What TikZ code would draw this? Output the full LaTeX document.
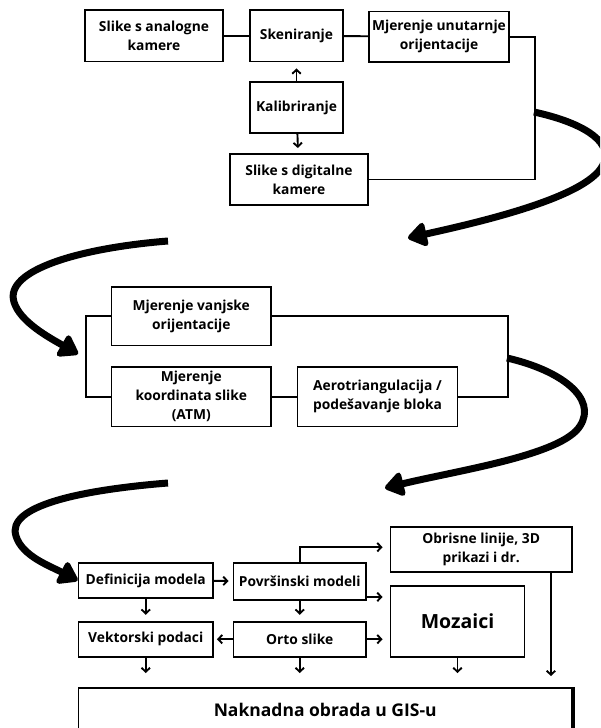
\documentclass[tikz,border=0pt]{standalone}
\usepackage{fontspec}
\setmainfont{Open Sans}
\usetikzlibrary{arrows.meta}

\begin{document}
\begin{tikzpicture}[x=1pt,y=-1pt,
	box/.style={draw,line width=1.9pt,align=center,inner sep=0pt,font=\bfseries\fontsize{13.8}{19}\selectfont},
	link/.style={line width=1.9pt},
	arr/.style={line width=1.9pt,-{Straight Barb[length=4pt,width=8.5pt]}},
	bigarr/.style={line width=7pt,-{Triangle[round,length=21pt,width=27pt]}}]
	\clip (0,0) rectangle (600,728);
	\fill[white] (0,0) rectangle (600,728);
		\node at (154,35.75) [box,minimum width=138,minimum height=51.5] (analogna) {Slike s analogne\\kamere};
		\node at (296.5,35.75) [box,minimum width=93,minimum height=51.5] (skeniranje) {Skeniranje};
		\node at (439,36.75) [box,minimum width=140,minimum height=50.5] (unutarnja) {Mjerenje unutarnje\\orijentacije};
		\node at (296.5,107.5) [box,minimum width=93,minimum height=51] (kalibriranje) {Kalibriranje};
		\node at (299,179.5) [box,minimum width=138,minimum height=51] (digitalna) {Slike s digitalne\\kamere};
		\draw[link] (analogna) -- (skeniranje);
		\draw[link] (skeniranje) -- (unutarnja);
		\draw[link] (unutarnja.east) -- ++(25,0) |- (digitalna.east);
		\draw[arr,shorten >=6pt] (kalibriranje) -- (skeniranje);
		\draw[arr,shorten >=5pt] (kalibriranje) -- (digitalna);
		\coordinate (k1) at (534,112);
		\coordinate (v1) at (408,238);
		\draw[bigarr] (k1) .. controls (580,122) and (612,140) .. (604,162) .. controls (594,196) and (480,222) .. (v1);

		\node at (191.25,316.25) [box,minimum width=159.5,minimum height=58.5] (vanjska) {Mjerenje vanjske\\orijentacije};
		\node at (191.25,396.75) [box,minimum width=159.5,minimum height=59.5] (atm) {Mjerenje\\koordinata slike\\(ATM)};
		\node at (377.5,396.75) [box,minimum width=160,minimum height=59.5] (aerotri) {Aerotriangulacija /\\podešavanje bloka};
		\draw[link] (vanjska.west) -- ++(-24.5,0) |- (atm.west);
		\draw[link] (vanjska.east) -- ++(236,0) |- (aerotri.east);
		\draw[link] (atm) -- (aerotri);
		\coordinate (k2) at (168,241);
		\coordinate (v2) at (78,354);
		\draw[bigarr] (k2) .. controls (80,248) and (4,270) .. (14,302) .. controls (20,322) and (50,338) .. (v2);
		\coordinate (k3) at (507,358);
		\coordinate (v3) at (385,488);
		\draw[bigarr] (k3) .. controls (560,370) and (598,398) .. (580,426) .. controls (562,455) and (460,470) .. (v3);

		\node at (145.75,580.5) [box,minimum width=134.5,minimum height=35.6] (definicija) {Definicija modela};
		\node at (299.75,581.35) [box,minimum width=132.5,minimum height=37.3] (povrsinski) {Površinski modeli};
		\node at (481.25,549.2) [box,minimum width=181.5,minimum height=45] (obrisne) {Obrisne linije, 3D\\prikazi i dr.};
		\node at (457.5,621.35) [box,minimum width=134,minimum height=70.7,font=\bfseries\fontsize{19.5}{23}\selectfont] (mozaici) {Mozaici};
		\node at (145.75,639.2) [box,minimum width=134.5,minimum height=35] (vektorski) {Vektorski podaci};
		\node at (299.75,639.2) [box,minimum width=132.5,minimum height=35] (orto) {Orto slike};
		\node at (325.25,710) [box,minimum width=493.5,minimum height=44,font=\bfseries\fontsize{17.5}{20}\selectfont] (gis) {Naknadna obrada u GIS-u};
		\draw[line width=3.5pt] (gis.north east) -- (gis.south east);
		\coordinate (k4) at (168,483);
		\draw[bigarr] (k4) .. controls (80,490) and (6,506) .. (16,536) .. controls (22,556) and (50,566) .. (definicija.west);
		\draw[arr,shorten >=4pt] (definicija) -- (povrsinski);
		\draw[arr,shorten >=7pt] (povrsinski.north) |- ([yshift=2pt]obrisne.west);
		\draw[arr,shorten >=7pt] ([yshift=4pt]povrsinski.south east) -- ([yshift=4pt]povrsinski.south east -| mozaici.west);
		\draw[arr,shorten >=6pt] (definicija) -- (vektorski);
		\draw[arr,shorten >=6pt] (povrsinski) -- (orto);
		\draw[arr,shorten >=3pt] (orto) -- (vektorski);
		\draw[arr,shorten >=7pt] (orto.east) -- (orto.east -| mozaici.west);
		\draw[arr,shorten >=14pt] (vektorski.south) -- (vektorski.south |- gis.north);
		\draw[arr,shorten >=14pt] (orto.south) -- (orto.south |- gis.north);
		\draw[arr,shorten >=14pt] (mozaici.south) -- (mozaici.south |- gis.north);
		\draw[arr,shorten >=11pt] ([xshift=-22pt]obrisne.south east) -- ([xshift=-22pt]obrisne.south east |- gis.north);
	\end{tikzpicture}
\end{document}
